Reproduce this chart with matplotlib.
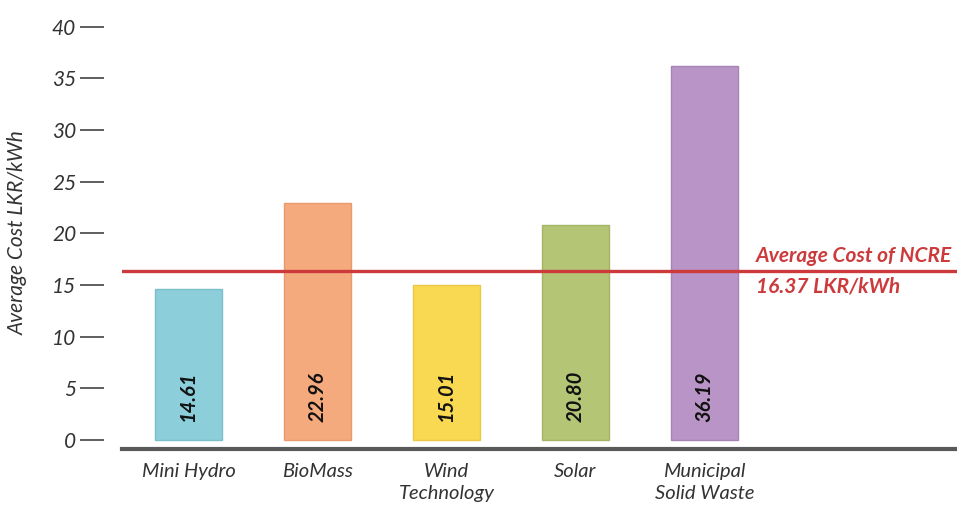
import matplotlib
matplotlib.use('Agg')
import matplotlib.pyplot as plt

categories = ['Mini Hydro', 'BioMass', 'Wind\nTechnology', 'Solar', 'Municipal\nSolid Waste']
costs = [14.61, 22.96, 15.01, 20.80, 36.19]
value_labels = ['14.61', '22.96', '15.01', '20.80', '36.19']
avg_cost = 16.37
yticks = [0, 5, 10, 15, 20, 25, 30, 35, 40]

bar_colors = ['#8ccfdb', '#f5aa7e', '#f9d852', '#b5c576', '#b994c6']
edge_colors = ['#7bbfcb', '#e89a6e', '#eac845', '#a5b566', '#a884b6']
red = '#cc3a3c'

plt.rcParams['font.family'] = ['Lato', 'DejaVu Sans']

fig = plt.figure(figsize=(9.57, 5.08), dpi=100)
ax = fig.add_axes([122 / 957, 59 / 508, 835 / 957, 429 / 508])

# spines first: moving a spine resets the ticks
ax.spines['left'].set_position(('outward', 13))
ax.spines['left'].set_color('none')
ax.spines['top'].set_visible(False)
ax.spines['right'].set_visible(False)
ax.spines['bottom'].set_color('#58595b')
ax.spines['bottom'].set_linewidth(3)

x = list(range(len(categories)))
ax.bar(x, costs, width=0.52, color=bar_colors, edgecolor=edge_colors, linewidth=1, zorder=2)

for xi, lab in zip(x, value_labels):
    ax.text(xi, 1.75, lab, rotation=90, ha='center', va='bottom',
            fontsize=14.5, fontweight='bold', fontstyle='italic', color='#111111', zorder=3)

ax.axhline(avg_cost, color=red, linewidth=2.4, zorder=4)
ax.text(4.4, avg_cost + 0.5, 'Average Cost of NCRE', color=red, fontsize=15,
        fontweight='bold', fontstyle='italic', ha='left', va='bottom')
ax.text(4.4, avg_cost - 0.5, '16.37 LKR/kWh', color=red, fontsize=15,
        fontweight='bold', fontstyle='italic', ha='left', va='top')

ax.set_xlim(-0.515, 5.957)
ax.set_ylim(-0.87, 40.66)

ax.set_yticks(yticks)
ax.set_yticklabels([str(t) for t in yticks], fontsize=15, fontstyle='italic', color='#333333')
ax.set_xticks(x)
ax.set_xticklabels(categories, fontsize=14.5, fontstyle='italic', color='#333333', linespacing=1.35)
ax.tick_params(axis='x', length=0, pad=10)
ax.tick_params(axis='y', length=17, width=1.1, color='#333333', pad=3)

ax.set_ylabel('Average Cost LKR/kWh', fontsize=15, fontstyle='italic', color='#333333')
ax.yaxis.set_label_coords(-0.113, 0.505)

fig.savefig('out.png', dpi=100)
